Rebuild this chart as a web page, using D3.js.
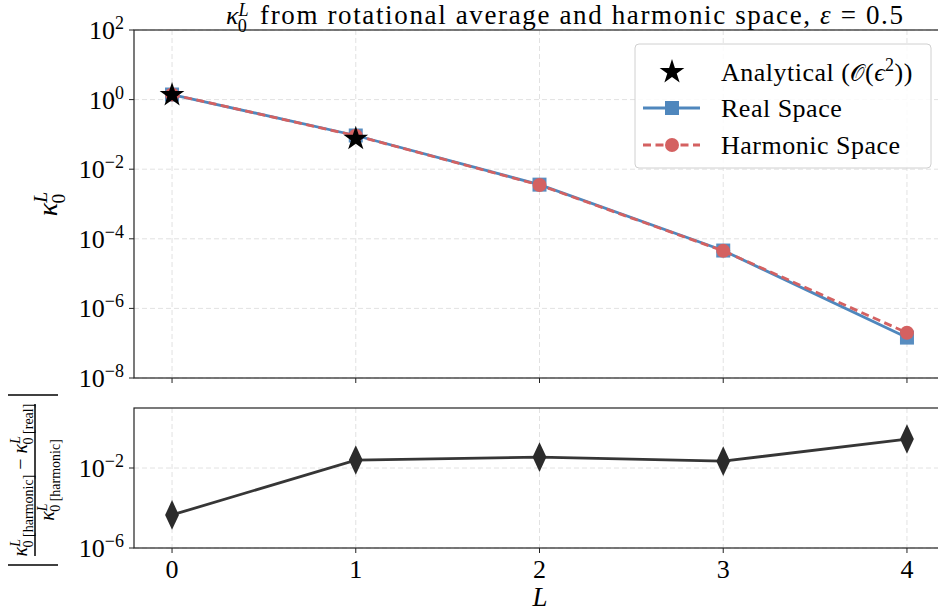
<!DOCTYPE html>
<html>
<head>
<meta charset="utf-8">
<script src="https://cdn.jsdelivr.net/npm/d3@7"></script>
<style>
  body { margin: 0; background: #fff; }
  svg { display: block; font-family: "Liberation Serif", "DejaVu Serif", serif; }
</style>
</head>
<body>
<svg></svg>
<script>
// chart data
const L = [0, 1, 2, 3, 4];
const realSpace = [1.4, 0.093, 3.6e-3, 4.6e-5, 1.45e-7];
const harmonicSpace = [1.4, 0.092, 3.5e-3, 4.5e-5, 2.0e-7];
const analyticalL = [0, 1];
const analytical = [1.35, 0.075];
const relDiff = [4.5e-5, 0.025, 0.035, 0.022, 0.28];
const topTicks = [1e-8, 1e-6, 1e-4, 1e-2, 1e0, 1e2];
const botTicks = [1e-6, 1e-2];

const width = 938, height = 614;
const svg = d3.select("svg").attr("width", width).attr("height", height);

const realColor = "#4f87bd";
const harmColor = "#d46161";
const gridColor = "#e2e2e2";

// shared x scale, both panels
const x = d3.scaleLinear().domain([-0.207, 4.207]).range([134, 945]);
const yTop = d3.scaleLog().domain([1e-8, 1e2]).range([378, 30]);
const yBot = d3.scaleLog().domain([1e-6, 10]).range([548, 408]);

// power-of-ten label with superscript exponent
function powLabel(sel, v) {
  const e = Math.round(Math.log10(v));
  sel.text("10");
  sel.append("tspan").attr("dy", -10).attr("font-size", 18)
    .text(e < 0 ? "\u2212" + (-e) : e);
}

// κ with L on top and a subscript underneath
function kappa(t, size, sub, up = 0.36) {
  t.append("tspan").attr("font-style", "italic").text("\u03ba");
  t.append("tspan").attr("font-style", "italic").attr("font-size", size * 0.7)
    .attr("dy", -size * up).text("L");
  t.append("tspan").attr("font-size", size * 0.7)
    .attr("dx", -size * 0.42).attr("dy", size * (up + 0.3)).text(sub);
  return size * 0.3; // offset needed to return to baseline
}

function panel(y, ticks) {
  const g = svg.append("g");
  const [y0, y1] = y.range();
  // grid
  g.selectAll(".gx").data(L).join("line")
    .attr("x1", d => x(d)).attr("x2", d => x(d))
    .attr("y1", y1).attr("y2", y0)
    .attr("stroke", gridColor).attr("stroke-dasharray", "5,3");
  g.selectAll(".gy").data(ticks).join("line")
    .attr("x1", 134).attr("x2", 945)
    .attr("y1", d => y(d)).attr("y2", d => y(d))
    .attr("stroke", gridColor).attr("stroke-dasharray", "5,3");
  // frame
  g.append("rect").attr("x", 134).attr("y", y1)
    .attr("width", 811).attr("height", y0 - y1)
    .attr("fill", "none").attr("stroke", "#222").attr("stroke-width", 1.2);
  // ticks
  g.selectAll(".ty").data(ticks).join("line")
    .attr("x1", 129).attr("x2", 134)
    .attr("y1", d => y(d)).attr("y2", d => y(d)).attr("stroke", "#222");
  g.selectAll(".tl").data(ticks).join("text")
    .attr("x", 124).attr("y", d => y(d) + 9)
    .attr("text-anchor", "end").attr("font-size", 26)
    .each(function (d) { powLabel(d3.select(this), d); });
  g.selectAll(".tx").data(L).join("line")
    .attr("x1", d => x(d)).attr("x2", d => x(d))
    .attr("y1", y0).attr("y2", y0 + 5).attr("stroke", "#222");
  return g;
}

// ---------- top panel ----------
const gTop = panel(yTop, topTicks);

const line = y => d3.line().x((d, i) => x(L[i])).y(d => y(d));

gTop.append("path").datum(realSpace)
  .attr("d", line(yTop)).attr("fill", "none")
  .attr("stroke", realColor).attr("stroke-width", 2.8);
gTop.selectAll(".sq").data(realSpace).join("rect")
  .attr("x", (d, i) => x(L[i]) - 7).attr("y", d => yTop(d) - 7)
  .attr("width", 14).attr("height", 14).attr("fill", realColor).attr("opacity", 0.95);

gTop.append("path").datum(harmonicSpace)
  .attr("d", line(yTop)).attr("fill", "none")
  .attr("stroke", harmColor).attr("stroke-width", 2.8)
  .attr("stroke-dasharray", "8,4.5");
gTop.selectAll(".ci").data(harmonicSpace).join("circle")
  .attr("cx", (d, i) => x(L[i])).attr("cy", d => yTop(d))
  .attr("r", 7).attr("fill", harmColor);

const star = d3.symbol().type(d3.symbolStar).size(190);
gTop.selectAll(".st").data(analytical).join("path")
  .attr("d", star)
  .attr("transform", (d, i) => `translate(${x(analyticalL[i])},${yTop(d)})`)
  .attr("fill", "#000");

// legend
const lg = svg.append("g");
lg.append("rect").attr("x", 635).attr("y", 44).attr("width", 296).attr("height", 124)
  .attr("rx", 4).attr("fill", "#fff").attr("fill-opacity", 0.85)
  .attr("stroke", "#d0d0d0");
lg.append("path").attr("d", star).attr("transform", "translate(672,72)").attr("fill", "#000");
lg.append("line").attr("x1", 643).attr("x2", 700).attr("y1", 108).attr("y2", 108)
  .attr("stroke", realColor).attr("stroke-width", 2.8);
lg.append("rect").attr("x", 665).attr("y", 101).attr("width", 14).attr("height", 14)
  .attr("fill", realColor);
lg.append("line").attr("x1", 643).attr("x2", 700).attr("y1", 145).attr("y2", 145)
  .attr("stroke", harmColor).attr("stroke-width", 2.8).attr("stroke-dasharray", "8,4.5");
lg.append("circle").attr("cx", 672).attr("cy", 145).attr("r", 7).attr("fill", harmColor);

const t1 = lg.append("text").attr("x", 721).attr("y", 81).attr("font-size", 26)
  .attr("letter-spacing", 0.5);
t1.append("tspan").text("Analytical (");
t1.append("tspan").attr("font-family", "DejaVu Sans").attr("font-size", 23).text("\ud835\udcaa");
t1.append("tspan").text("(");
t1.append("tspan").attr("font-style", "italic").text("\u03f5");
t1.append("tspan").attr("font-size", 18).attr("dy", -10).text("2");
t1.append("tspan").attr("dy", 10).text("))");
lg.append("text").attr("x", 721).attr("y", 117).attr("font-size", 26)
  .attr("letter-spacing", 0.5).text("Real Space");
lg.append("text").attr("x", 721).attr("y", 154).attr("font-size", 26)
  .attr("letter-spacing", 0.5).text("Harmonic Space");

// title: κ part, then the words stretched to the reference width
const tk = svg.append("text").attr("x", 226).attr("y", 24).attr("font-size", 26);
kappa(tk, 26, "0", 0.3);
const tw = svg.append("text").attr("x", 260).attr("y", 24).attr("font-size", 27)
  .attr("font-family", "Liberation Serif")
  .attr("textLength", 643).attr("lengthAdjust", "spacing");
tw.append("tspan").text("from rotational average and harmonic space, ");
tw.append("tspan").attr("font-style", "italic").text("\u03b5");
tw.append("tspan").text(" = 0.5");

// top y label
const yl = svg.append("text").attr("transform", "translate(57,204) rotate(-90)")
  .attr("text-anchor", "middle").attr("font-size", 28);
kappa(yl, 28, "0");

// ---------- bottom panel ----------
const gBot = panel(yBot, botTicks);
gBot.append("path").datum(relDiff)
  .attr("d", line(yBot)).attr("fill", "none")
  .attr("stroke", "#2b2b2b").attr("stroke-opacity", 0.95).attr("stroke-width", 2.8);
const diamond = d3.symbol().type(d3.symbolDiamond).size(150);
gBot.selectAll(".dm").data(relDiff).join("path")
  .attr("d", diamond)
  .attr("transform", (d, i) => `translate(${x(L[i])},${yBot(d)}) scale(1.05,1.3)`)
  .attr("fill", "#2b2b2b");

// x tick labels and label
svg.selectAll(".xl").data(L).join("text")
  .attr("x", d => x(d)).attr("y", 578)
  .attr("text-anchor", "middle").attr("font-size", 26).text(d => d);
svg.append("text").attr("x", 540).attr("y", 606)
  .attr("text-anchor", "middle").attr("font-size", 27).attr("font-style", "italic").text("L");

// bottom y label: |(κ[harmonic] − κ[real]) / κ[harmonic]|
const bl = svg.append("g").attr("transform", "translate(35,480) rotate(-90)");
bl.append("line").attr("x1", -76).attr("x2", 76).attr("y1", 0).attr("y2", 0)
  .attr("stroke", "#000").attr("stroke-width", 1.5);
bl.selectAll(".ab").data([-85, 85]).join("line")
  .attr("x1", d => d).attr("x2", d => d).attr("y1", -27).attr("y2", 23)
  .attr("stroke", "#000").attr("stroke-width", 1.5);
const num = bl.append("text").attr("x", 0).attr("y", -8)
  .attr("text-anchor", "middle").attr("font-size", 20);
let b = kappa(num, 20, "0 [harmonic]");
num.append("tspan").attr("dy", -b).text(" \u2212 ");
b = kappa(num, 20, "0 [real]");
const den = bl.append("text").attr("x", 0).attr("y", 19)
  .attr("text-anchor", "middle").attr("font-size", 20);
kappa(den, 20, "0 [harmonic]");
</script>
</body>
</html>
